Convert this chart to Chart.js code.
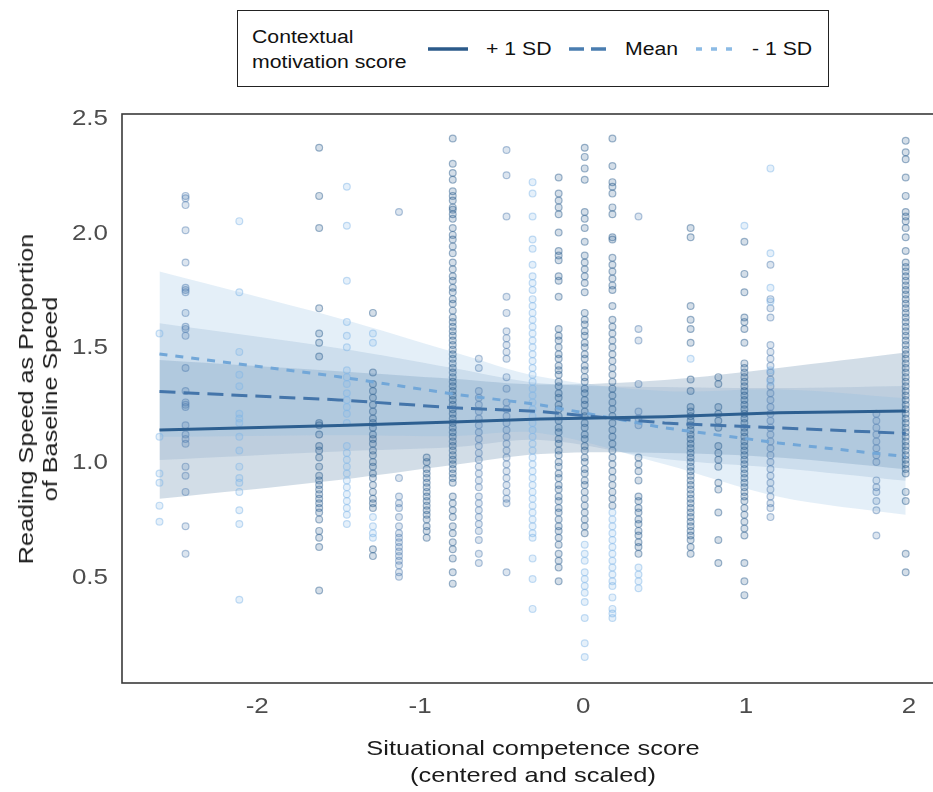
<!DOCTYPE html>
<html>
<head>
<meta charset="utf-8">
<script src="https://cdn.jsdelivr.net/npm/chart.js@4.4.1/dist/chart.umd.min.js"></script>
<style>
  body { margin: 0; width: 933px; height: 792px; overflow: hidden; background: #fff; position: relative; font-family: "Liberation Sans", Arial, sans-serif; }
  #wrap { position: absolute; left: 0; top: 0; width: 950px; height: 792px; }
  .stretch { display: inline-block; transform: scaleX(1.18); transform-origin: left center; white-space: nowrap; }
  #legend { position: absolute; left: 237px; top: 10px; width: 592px; height: 77px; border: 1.6px solid #222; box-sizing: border-box; background: #fff; }
  #legend .t { position: absolute; font-size: 18px; color: #111; line-height: 20px; }
  #ytitle { position: absolute; left: 38px; top: 399px; transform: translate(-50%, -50%) rotate(-90deg) scale(1.2, 1); font-size: 21px; line-height: 24px; text-align: center; white-space: nowrap; color: #1a1a1a; }
  #xtitle { position: absolute; left: 533px; top: 761px; transform: translate(-50%, -50%) scale(1.21, 1); font-size: 21px; line-height: 27px; text-align: center; white-space: nowrap; color: #1a1a1a; }
</style>
</head>
<body>
<div id="wrap"><canvas id="graf" width="950" height="792"></canvas></div>

<div id="legend">
  <div class="t" style="left:14px; top:16px;"><span class="stretch">Contextual</span></div>
  <div class="t" style="left:14px; top:41px;"><span class="stretch">motivation score</span></div>
  <svg style="position:absolute; left:0; top:0;" width="590" height="75">
    <line x1="190" y1="38" x2="230" y2="38" stroke="#2b5a8a" stroke-width="3.5"/>
    <line x1="331" y1="38" x2="369" y2="38" stroke="#4a7db0" stroke-width="3.5" stroke-dasharray="15,7"/>
    <line x1="458" y1="38" x2="496" y2="38" stroke="#8cbbe5" stroke-width="3.5" stroke-dasharray="6,9"/>
  </svg>
  <div class="t" style="left:248px; top:28px;"><span class="stretch">+ 1 SD</span></div>
  <div class="t" style="left:387px; top:28px;"><span class="stretch">Mean</span></div>
  <div class="t" style="left:514px; top:28px;"><span class="stretch">- 1 SD</span></div>
</div>

<div id="ytitle">Reading Speed as Proportion<br>of Baseline Speed</div>
<div id="xtitle">Situational competence score<br>(centered and scaled)</div>

<script>
// ejes
const xTicks = [-2, -1, 0, 1, 2];
const yTicks = [0.5, 1.0, 1.5, 2.0, 2.5];

// bandas de confianza y rectas
const bandX   = [-2.6, -1.5, -0.8, -0.26, 0.5, 1.2, 1.98];
const hiFit   = [1.14, 1.159, 1.175, 1.188, 1.198, 1.215, 1.223];
const hiLow   = [0.84, 0.922, 0.987, 1.035, 1.04, 1.02, 0.969];
const hiUp    = [1.445, 1.396, 1.363, 1.338, 1.358, 1.41, 1.477];
const meanFit = [1.307, 1.271, 1.237, 1.22, 1.17, 1.149, 1.125];
const meanLow = [1.009, 1.046, 1.064, 1.096, 1.013, 0.974, 0.918];
const meanUp  = [1.605, 1.496, 1.41, 1.344, 1.327, 1.323, 1.332];
const loFit   = [1.471, 1.372, 1.297, 1.249, 1.149, 1.083, 1.024];
const loLow   = [1.11, 1.117, 1.113, 1.126, 0.99, 0.849, 0.77];
const loUp    = [1.83, 1.627, 1.481, 1.372, 1.31, 1.317, 1.278];

// puntos: [x, [y...]] por columna
const darkPts = [
  [-1.62, [2.37, 2.16, 2.02, 1.67, 1.56, 1.52, 1.46, 1.17, 1.16, 1.12, 1.07, 1.05, 1.02, 0.98, 0.94, 0.92, 0.9, 0.88, 0.86, 0.84, 0.82, 0.8, 0.78, 0.75, 0.7, 0.67, 0.63, 0.44]],
  [-1.29, [1.65, 1.39, 1.34, 1.31, 1.28, 1.25, 1.22, 1.19, 1.17, 1.15, 1.12, 1.1, 1.08, 1.05, 1.03, 1.0, 0.98, 0.95, 0.93, 0.9, 0.87, 0.84, 0.82, 0.8, 0.62, 0.59]],
  [-0.96, [1.02, 1.0, 0.97, 0.95, 0.93, 0.91, 0.89, 0.87, 0.85, 0.83, 0.81, 0.79, 0.77, 0.75, 0.72, 0.7, 0.67]],
  [-0.8, [2.41, 2.3, 2.26, 2.23, 2.18, 2.16, 2.14, 2.11, 2.1, 2.08, 2.06, 2.02, 1.99, 1.97, 1.94, 1.91, 1.87, 1.84, 1.81, 1.79, 1.76, 1.74, 1.71, 1.69, 1.66, 1.63, 1.61, 1.59, 1.57, 1.55, 1.53, 1.51, 1.49, 1.47, 1.45, 1.43, 1.41, 1.39, 1.37, 1.35, 1.33, 1.31, 1.29, 1.27, 1.25, 1.23, 1.21, 1.19, 1.17, 1.15, 1.13, 1.11, 1.09, 1.07, 1.05, 1.03, 1.01, 0.99, 0.97, 0.95, 0.93, 0.91, 0.85, 0.82, 0.79, 0.76, 0.72, 0.69, 0.65, 0.62, 0.58, 0.52, 0.47]],
  [-0.15, [2.24, 2.17, 2.14, 2.11, 2.08, 2.0, 1.92, 1.9, 1.88, 1.81, 1.79, 1.72, 1.58, 1.55, 1.53, 1.5, 1.47, 1.45, 1.42, 1.4, 1.38, 1.35, 1.33, 1.3, 1.28, 1.25, 1.23, 1.2, 1.18, 1.15, 1.13, 1.1, 1.08, 1.05, 1.03, 1.0, 0.98, 0.95, 0.93, 0.9, 0.88, 0.85, 0.83, 0.8, 0.78, 0.75, 0.72, 0.7, 0.67, 0.64, 0.6, 0.57, 0.54, 0.48]],
  [0.01, [2.37, 2.33, 2.28, 2.23, 2.09, 2.06, 2.02, 1.96, 1.9, 1.87, 1.84, 1.81, 1.78, 1.74, 1.65, 1.62, 1.6, 1.57, 1.55, 1.52, 1.5, 1.47, 1.45, 1.42, 1.4, 1.37, 1.35, 1.32, 1.3, 1.27, 1.25, 1.22, 1.2, 1.17, 1.15, 1.12, 1.1, 1.07, 1.05, 1.02, 1.0, 0.97, 0.95, 0.92, 0.9, 0.87, 0.84, 0.81, 0.78, 0.75, 0.72, 0.69]],
  [0.18, [2.41, 2.29, 2.22, 2.2, 2.17, 2.11, 2.08, 1.98, 1.97, 1.89, 1.86, 1.83, 1.8, 1.77, 1.75, 1.68, 1.62, 1.59, 1.56, 1.53, 1.5, 1.47, 1.44, 1.41, 1.38, 1.35, 1.32, 1.29, 1.26, 1.23, 1.2, 1.17, 1.14, 1.11, 1.08, 1.05, 1.02, 0.99, 0.96, 0.93, 0.9, 0.87, 0.84, 0.81]],
  [0.34, [1.02, 0.99, 0.96, 0.92, 0.85, 0.83, 0.8, 0.78, 0.75, 0.73, 0.7, 0.68, 0.65, 0.63, 0.6]],
  [0.66, [2.02, 1.98, 1.68, 1.62, 1.58, 1.52, 1.36, 1.31, 1.24, 1.22, 1.2, 1.18, 1.16, 1.14, 1.12, 1.1, 1.08, 1.06, 1.04, 1.02, 1.0, 0.98, 0.96, 0.94, 0.92, 0.9, 0.88, 0.86, 0.84, 0.82, 0.8, 0.78, 0.76, 0.74, 0.72, 0.7, 0.68, 0.66, 0.63, 0.6]],
  [0.83, [1.37, 1.34, 1.24, 1.21, 1.18, 1.15, 1.07, 1.04, 1.01, 0.98, 0.91, 0.88, 0.78, 0.66, 0.56]],
  [0.99, [1.96, 1.82, 1.74, 1.63, 1.61, 1.58, 1.52, 1.43, 1.41, 1.39, 1.37, 1.35, 1.33, 1.31, 1.29, 1.27, 1.25, 1.23, 1.21, 1.19, 1.17, 1.15, 1.13, 1.11, 1.09, 1.07, 1.05, 1.03, 1.01, 0.99, 0.97, 0.95, 0.93, 0.91, 0.89, 0.87, 0.85, 0.83, 0.8, 0.77, 0.74, 0.71, 0.68, 0.56, 0.48, 0.42]],
  [1.98, [2.4, 2.35, 2.32, 2.24, 2.16, 2.09, 2.07, 2.05, 2.02, 1.98, 1.92, 1.87, 1.85, 1.83, 1.81, 1.79, 1.77, 1.75, 1.73, 1.71, 1.69, 1.67, 1.65, 1.63, 1.61, 1.59, 1.57, 1.55, 1.53, 1.51, 1.49, 1.47, 1.45, 1.43, 1.41, 1.39, 1.37, 1.35, 1.33, 1.31, 1.29, 1.27, 1.25, 1.23, 1.21, 1.19, 1.17, 1.15, 1.13, 1.11, 1.09, 1.07, 1.05, 1.03, 1.01, 0.99, 0.97, 0.95, 0.87, 0.83, 0.6, 0.52]]
];
const midPts = [
  [-2.44, [2.16, 2.15, 2.12, 2.01, 1.87, 1.76, 1.75, 1.74, 1.65, 1.59, 1.58, 1.55, 1.41, 1.31, 1.26, 1.25, 1.24, 1.16, 1.12, 1.1, 1.08, 0.98, 0.94, 0.87, 0.72, 0.6]],
  [-1.13, [2.09, 0.93, 0.85, 0.82, 0.8, 0.76, 0.72, 0.69, 0.67, 0.65, 0.63, 0.61, 0.59, 0.57, 0.55, 0.52, 0.5]],
  [-0.64, [1.45, 1.41, 1.31, 1.28, 1.25, 1.22, 1.19, 1.16, 1.13, 1.1, 1.07, 1.04, 1.01, 0.98, 0.95, 0.92, 0.89, 0.85, 0.82, 0.79, 0.76, 0.73, 0.7, 0.66, 0.6, 0.56]],
  [-0.47, [2.36, 2.25, 2.07, 1.72, 1.65, 1.57, 1.54, 1.51, 1.48, 1.45, 1.37, 1.32, 1.26, 1.23, 1.2, 1.17, 1.14, 1.11, 1.08, 1.05, 1.02, 0.99, 0.96, 0.93, 0.9, 0.87, 0.84, 0.82, 0.52]],
  [0.34, [2.07, 1.58, 1.53, 1.34, 1.22, 1.19, 1.16]],
  [1.15, [1.86, 1.71, 1.67, 1.63, 1.51, 1.48, 1.45, 1.42, 1.39, 1.36, 1.33, 1.3, 1.27, 1.24, 1.21, 1.18, 1.15, 1.12, 1.09, 1.06, 1.03, 1.0, 0.97, 0.94, 0.91, 0.88, 0.85, 0.82, 0.8, 0.76]],
  [1.8, [1.21, 1.18, 1.15, 1.12, 1.09, 1.06, 1.03, 1.0, 0.92, 0.89, 0.87, 0.83, 0.79, 0.68]]
];
const lightPts = [
  [-2.6, [1.56, 1.11, 0.95, 0.91, 0.81, 0.74]],
  [-2.11, [2.05, 1.74, 1.48, 1.38, 1.33, 1.21, 1.19, 1.17, 1.11, 1.05, 0.98, 0.93, 0.91, 0.87, 0.79, 0.73, 0.4]],
  [-1.45, [2.2, 2.03, 1.79, 1.61, 1.55, 1.5, 1.4, 1.37, 1.34, 1.3, 1.27, 1.24, 1.21, 1.17, 1.07, 1.04, 1.01, 0.98, 0.95, 0.92, 0.89, 0.86, 0.83, 0.8, 0.77, 0.73]],
  [-1.29, [1.56, 1.52, 0.76, 0.72, 0.69, 0.67]],
  [-0.31, [2.22, 2.17, 2.07, 1.97, 1.93, 1.86, 1.81, 1.78, 1.75, 1.71, 1.68, 1.65, 1.62, 1.59, 1.56, 1.53, 1.5, 1.47, 1.44, 1.41, 1.38, 1.35, 1.32, 1.29, 1.26, 1.23, 1.2, 1.17, 1.14, 1.11, 1.08, 1.05, 1.02, 0.99, 0.96, 0.93, 0.9, 0.87, 0.84, 0.81, 0.78, 0.75, 0.72, 0.69, 0.67, 0.58, 0.49, 0.36]],
  [0.01, [0.64, 0.6, 0.57, 0.52, 0.49, 0.46, 0.43, 0.39, 0.32, 0.21, 0.15]],
  [0.18, [0.78, 0.75, 0.72, 0.69, 0.66, 0.63, 0.6, 0.57, 0.54, 0.51, 0.48, 0.46, 0.41, 0.36, 0.34, 0.32]],
  [0.34, [0.54, 0.51, 0.48, 0.45]],
  [0.66, [1.45]],
  [0.99, [2.03]],
  [1.15, [2.28, 1.91, 1.76, 1.7, 1.4, 1.35]]
];

function toXY(xs, ys) {
  return xs.map((x, i) => ({x: x, y: ys[i]}));
}
function flatten(cols) {
  const out = [];
  cols.forEach(c => c[1].forEach(v => out.push({x: c[0], y: v})));
  return out;
}

function band(up, low, color, order) {
  return [
    { type: 'line', data: toXY(bandX, up), borderWidth: 0, pointRadius: 0, fill: false, tension: 0.35, order: order },
    { type: 'line', data: toXY(bandX, low), borderWidth: 0, pointRadius: 0, fill: '-1', backgroundColor: color, tension: 0.35, order: order }
  ];
}
function pts(cols, rgb) {
  return {
    type: 'scatter', data: flatten(cols), order: 5,
    pointRadius: 3.4, borderWidth: 1.2,
    backgroundColor: 'rgba(' + rgb + ',0.2)',
    borderColor: 'rgba(' + rgb + ',0.45)'
  };
}
function fitLine(ys, color, dash, order) {
  return { type: 'line', data: toXY(bandX, ys), borderColor: color, borderWidth: 3, borderDash: dash,
           pointRadius: 0, fill: false, tension: 0, order: order };
}

const datasets = [].concat(
  fitLine(hiFit, '#2d5f90', [], 1),
  fitLine(meanFit, '#4475aa', [16, 8], 2),
  fitLine(loFit, '#72a7d8', [8, 8], 3),
  pts(lightPts, '125,180,230'),
  pts(midPts, '80,125,175'),
  pts(darkPts, '40,90,140'),
  band(loUp, loLow, 'rgba(130,180,225,0.22)', 10),
  band(meanUp, meanLow, 'rgba(118,156,193,0.22)', 10),
  band(hiUp, hiLow, 'rgba(44,95,140,0.21)', 10)
);

// marco y etiquetas de los ejes
const frameTicks = {
  id: 'frameTicks',
  afterDraw(chart) {
    const ctx = chart.ctx;
    const a = chart.chartArea;
    const xs = chart.scales.x, ys = chart.scales.y;
    ctx.save();
    ctx.strokeStyle = '#3a3a3a';
    ctx.lineWidth = 1.6;
    ctx.strokeRect(a.left, a.top, a.right - a.left, a.bottom - a.top);
    ctx.fillStyle = '#4d4d4d';
    ctx.font = '22px "Liberation Sans", Arial, sans-serif';
    ctx.textBaseline = 'middle';
    ctx.textAlign = 'right';
    ys.ticks.forEach(t => {
      ctx.save();
      ctx.translate(a.left - 14, ys.getPixelForValue(t.value) + 1);
      ctx.scale(1.18, 1);
      ctx.fillText(t.value.toFixed(1), 0, 0);
      ctx.restore();
    });
    ctx.textAlign = 'center';
    xs.ticks.forEach(t => {
      ctx.save();
      ctx.translate(xs.getPixelForValue(t.value), a.bottom + 24);
      ctx.scale(1.18, 1);
      ctx.fillText(String(t.value), 0, 0);
      ctx.restore();
    });
    ctx.restore();
  }
};

new Chart(document.getElementById('graf').getContext('2d'), {
  data: { datasets: datasets },
  options: {
    responsive: false,
    animation: false,
    devicePixelRatio: 1,
    layout: { padding: { top: 114, right: 5, left: 0, bottom: 0 } },
    plugins: { legend: { display: false }, tooltip: { enabled: false } },
    scales: {
      x: {
        type: 'linear', min: -2.83, max: 2.22,
        grid: { display: false, drawTicks: false }, border: { display: false },
        ticks: { display: false },
        afterBuildTicks: s => { s.ticks = xTicks.map(v => ({value: v})); },
        afterFit: s => { s.height = 109; }
      },
      y: {
        type: 'linear', min: 0.037, max: 2.517,
        grid: { display: false, drawTicks: false }, border: { display: false },
        ticks: { display: false },
        afterBuildTicks: s => { s.ticks = yTicks.map(v => ({value: v})); },
        afterFit: s => { s.width = 122; }
      }
    }
  },
  plugins: [frameTicks]
});
</script>
</body>
</html>
